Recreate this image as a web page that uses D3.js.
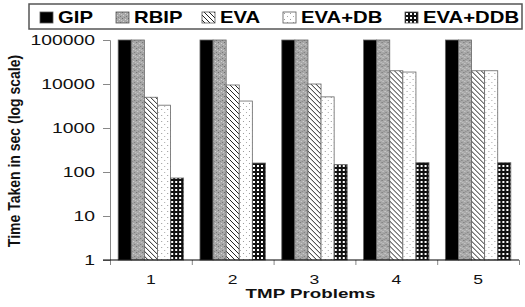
<!DOCTYPE html>
<html>
<head>
<meta charset="utf-8">
<script src="https://cdn.jsdelivr.net/npm/d3@7"></script>
<style>
  body { margin: 0; background: #fff; }
  svg text { font-family: "Liberation Sans", Arial, sans-serif; }
</style>
</head>
<body>
<div id="chart"></div>
<script>
// data
const problems = ["1", "2", "3", "4", "5"];
const seriesNames = ["GIP", "RBIP", "EVA", "EVA+DB", "EVA+DDB"];
const gip    = [100000, 100000, 100000, 100000, 100000];
const rbip   = [100000, 100000, 100000, 100000, 100000];
const eva    = [5000, 9500, 10000, 20000, 20000];
const evaDb  = [3300, 4100, 5100, 18700, 20000];
const evaDdb = [73, 160, 147, 163, 163];
const yTicks = [1, 10, 100, 1000, 10000, 100000];

const values = [gip, rbip, eva, evaDb, evaDdb];
const width = 525, height = 307;
const plot = { left: 110, right: 519, top: 40, bottom: 260 };

const svg = d3.select("#chart").append("svg")
    .attr("width", width)
    .attr("height", height);

// fill patterns, one per series
const defs = svg.append("defs");
const fills = ["#000", "url(#p-rbip)", "url(#p-eva)", "url(#p-db)", "url(#p-ddb)"];

let p = defs.append("pattern").attr("id", "p-rbip")
    .attr("patternUnits", "userSpaceOnUse").attr("width", 6).attr("height", 6);
p.append("rect").attr("width", 6).attr("height", 6).attr("fill", "#a8a8a8");
[[0, 0, "#6e6e6e"], [3, 1, "#d6d6d6"], [1, 3, "#d0d0d0"], [4, 4, "#777"], [2, 5, "#888"], [5, 2, "#c8c8c8"]]
    .forEach(([x, y, c]) => p.append("rect").attr("x", x).attr("y", y)
        .attr("width", 1).attr("height", 1).attr("fill", c));

p = defs.append("pattern").attr("id", "p-eva")
    .attr("patternUnits", "userSpaceOnUse").attr("width", 5).attr("height", 5);
p.append("rect").attr("width", 5).attr("height", 5).attr("fill", "#fff");
p.append("path").attr("d", "M-1,-1 L6,6 M-1,4 L1,6 M4,-1 L6,1")
    .attr("stroke", "#222").attr("stroke-width", 1);

p = defs.append("pattern").attr("id", "p-db")
    .attr("patternUnits", "userSpaceOnUse").attr("width", 6).attr("height", 6);
p.append("rect").attr("width", 6).attr("height", 6).attr("fill", "#fff");
p.append("rect").attr("x", 1).attr("y", 1).attr("width", 1).attr("height", 1).attr("fill", "#999");
p.append("rect").attr("x", 4).attr("y", 4).attr("width", 1).attr("height", 1).attr("fill", "#aaa");

p = defs.append("pattern").attr("id", "p-ddb")
    .attr("patternUnits", "userSpaceOnUse").attr("width", 4).attr("height", 4);
p.append("rect").attr("width", 4).attr("height", 4).attr("fill", "#111");
p.append("rect").attr("x", 1).attr("y", 1).attr("width", 2).attr("height", 2).attr("fill", "#fff");

// scales
const y = d3.scaleLog().domain([1, 100000]).range([plot.bottom, plot.top]);
const x0 = d3.scaleBand().domain(problems).range([plot.left, plot.right])
    .paddingInner(0.2).paddingOuter(0.1);
const x1 = d3.scaleBand().domain(seriesNames).range([0, x0.bandwidth()]);
const xEdges = d3.scaleLinear().domain([0, problems.length]).range([plot.left, plot.right]);

// bars
const groups = svg.append("g").selectAll("g")
    .data(problems)
    .join("g")
    .attr("transform", d => `translate(${x0(d)},0)`);

groups.selectAll("rect")
    .data((d, i) => seriesNames.map((s, j) => ({ s: s, v: values[j][i], j: j })))
    .join("rect")
    .attr("x", d => x1(d.s))
    .attr("y", d => y(d.v))
    .attr("width", x1.bandwidth())
    .attr("height", d => plot.bottom - y(d.v))
    .attr("fill", d => fills[d.j])
    .attr("stroke", "#666")
    .attr("stroke-width", 0.8);

// helper for stretched text
function stretchText(sel, s) {
    sel.attr("transform", function () {
        const t = d3.select(this);
        return (t.attr("transform") || "") + ` scale(${s},1)`;
    });
}

// y axis
const yAxis = svg.append("g")
    .attr("transform", `translate(${plot.left},0)`)
    .call(d3.axisLeft(y).tickValues(yTicks).tickFormat(d3.format("d"))
        .tickSize(7).tickPadding(0));
yAxis.selectAll("path, line").attr("stroke", "#888");
yAxis.selectAll("text")
    .attr("font-size", 14).attr("fill", "#111")
    .attr("x", null).attr("dy", "0.34em")
    .attr("transform", "translate(-15,0)");
stretchText(yAxis.selectAll("text"), 1.38);

// x axis: boundary ticks and category labels
const xTickAxis = svg.append("g")
    .attr("transform", `translate(0,${plot.bottom})`)
    .call(d3.axisBottom(xEdges).ticks(problems.length).tickFormat("").tickSize(5));
xTickAxis.selectAll("line").attr("stroke", "#888");
xTickAxis.select("path").remove();

svg.append("line")
    .attr("x1", plot.left - 7).attr("x2", plot.right)
    .attr("y1", plot.bottom).attr("y2", plot.bottom)
    .attr("stroke", "#000").attr("stroke-width", 1.2);

const xAxis = svg.append("g")
    .attr("transform", `translate(0,${plot.bottom})`)
    .call(d3.axisBottom(x0).tickSize(0).tickPadding(0));
xAxis.select("path").remove();
xAxis.selectAll("text")
    .attr("font-size", 13).attr("fill", "#111")
    .attr("y", null).attr("dy", null)
    .attr("transform", "translate(0,24)");
stretchText(xAxis.selectAll("text"), 1.35);

// axis titles
svg.append("text")
    .attr("transform", `translate(${(plot.left + plot.right) / 2 - 4},298) scale(1.5,1)`)
    .attr("text-anchor", "middle")
    .attr("font-size", 12.5).attr("font-weight", "bold").attr("fill", "#111")
    .text("TMP Problems");

svg.append("text")
    .attr("transform", `translate(20,${(plot.top + plot.bottom) / 2 + 1}) scale(1.15,1) rotate(-90)`)
    .attr("text-anchor", "middle")
    .attr("font-size", 14).attr("font-weight", "bold").attr("fill", "#111")
    .text("Time Taken in sec (log scale)");

// legend
const legendX = [40, 116, 202, 283, 405];
const legend = svg.append("g");
legend.append("rect")
    .attr("x", 29).attr("y", 4).attr("width", 493).attr("height", 25)
    .attr("fill", "#fff").attr("stroke", "#555").attr("stroke-width", 1.5);

const items = legend.selectAll("g.item")
    .data(seriesNames)
    .join("g")
    .attr("class", "item")
    .attr("transform", (d, i) => `translate(${legendX[i]},0)`);
items.append("rect")
    .attr("x", 0).attr("y", 12).attr("width", 13).attr("height", 11)
    .attr("fill", (d, i) => fills[i])
    .attr("stroke", "#555").attr("stroke-width", 0.8);
items.append("text")
    .attr("transform", "translate(18,23) scale(1.27,1)")
    .attr("font-size", 16).attr("font-weight", "bold").attr("fill", "#000")
    .text(d => d);
</script>
</body>
</html>
